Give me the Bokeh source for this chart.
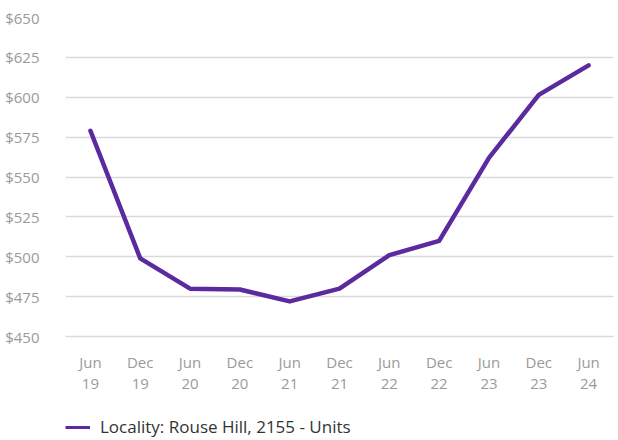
from bokeh.plotting import figure
from bokeh.layouts import column
from bokeh.models import Range1d, Legend, LegendItem, NumeralTickFormatter, FixedTicker
from bokeh.embed import file_html
from bokeh.resources import INLINE

periods = ["Jun\n19", "Dec\n19", "Jun\n20", "Dec\n20", "Jun\n21", "Dec\n21",
           "Jun\n22", "Dec\n22", "Jun\n23", "Dec\n23", "Jun\n24"]
rents = [579, 499, 480, 479.5, 472, 480, 501, 510, 562, 601.5, 620]
y_ticks = [450, 475, 500, 525, 550, 575, 600, 625, 650]
series_name = "Locality: Rouse Hill, 2155 - Units"

FONT = "Open Sans"
LINE_COLOR = "#5B2A9E"

p = figure(frame_width=548, frame_height=319, x_range=periods, y_range=Range1d(450, 650),
           output_backend="svg", toolbar_location=None,
           min_border_left=65, min_border_right=5, min_border_top=17, min_border_bottom=64)
p.outline_line_color = None
p.line(periods, rents, line_width=4.5, color=LINE_COLOR, line_cap="round", line_join="round")

p.yaxis.ticker = FixedTicker(ticks=y_ticks)
p.yaxis.formatter = NumeralTickFormatter(format="$0")
p.yaxis.axis_line_color = None
p.yaxis.major_tick_line_color = None
p.yaxis.minor_tick_line_color = None
p.yaxis.major_label_standoff = 20
p.xaxis.axis_line_color = "#d9d9d9"
p.xaxis.axis_line_width = 1.5
p.xaxis.major_tick_line_color = None
p.xaxis.major_label_standoff = 9
p.xaxis.major_label_text_line_height = 1.08
for ax in (p.xaxis, p.yaxis):
    ax.major_label_text_font = FONT
    ax.major_label_text_font_size = "15px"
    ax.major_label_text_color = "#9a9a9a"
p.xgrid.grid_line_color = None
p.ygrid.grid_line_color = "#d9d9d9"
p.ygrid.grid_line_width = 1.5

# separate strip below the chart that holds only the legend
lg = figure(width=618, height=40, x_range=periods, y_range=Range1d(0, 1),
            output_backend="svg", toolbar_location=None,
            x_axis_location=None, y_axis_location=None,
            min_border=0, min_border_left=65)
lg.outline_line_color = None
lg.grid.grid_line_color = None
lr = lg.line(periods, rents, line_width=3, color=LINE_COLOR)  # outside this strip's range, so only its legend shows

legend = Legend(items=[LegendItem(label=series_name, renderers=[lr])],
                location=(0, 2), orientation="horizontal",
                border_line_color=None, background_fill_alpha=0,
                label_text_font=FONT, label_text_font_size="17px", label_text_color="#333333",
                glyph_width=25, label_standoff=10, padding=0, margin=0, spacing=0)
lg.add_layout(legend, "center")

layout = column(p, lg, spacing=0)
open("out.html", "w").write(file_html(layout, INLINE))
